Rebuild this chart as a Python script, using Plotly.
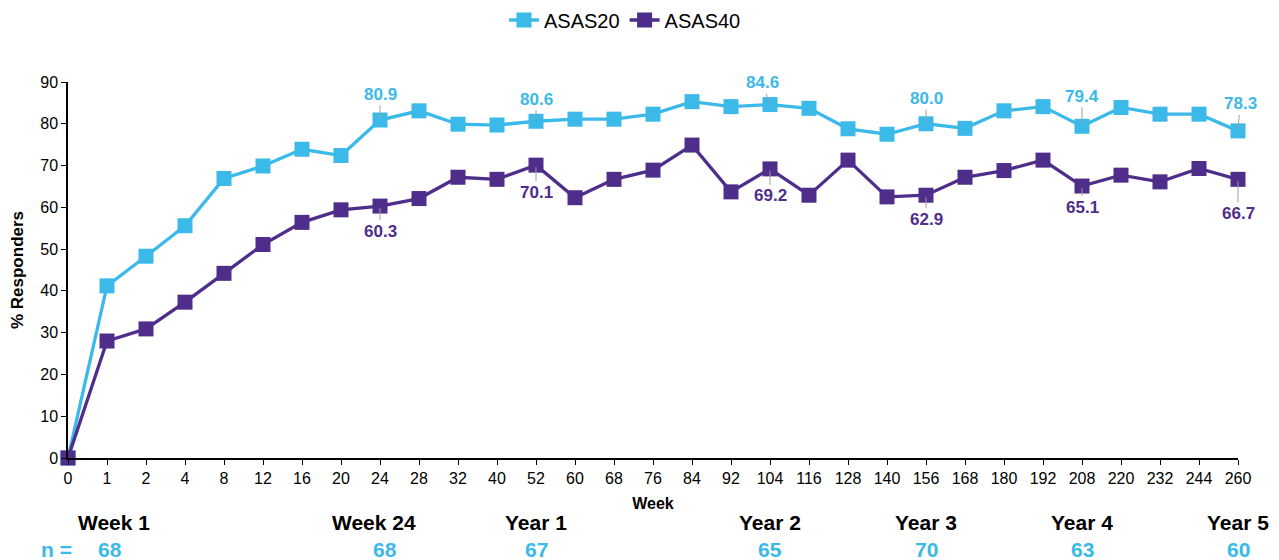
import plotly.graph_objects as go

weeks = ["0", "1", "2", "4", "8", "12", "16", "20", "24", "28", "32", "40", "52", "60", "68",
         "76", "84", "92", "104", "116", "128", "140", "156", "168", "180", "192", "208", "220",
         "232", "244", "260"]
asas20 = [0, 41.2, 48.3, 55.6, 66.9, 69.9, 73.9, 72.4, 80.9, 83.1, 79.9, 79.7, 80.6, 81.1, 81.1,
          82.3, 85.3, 84.1, 84.6, 83.7, 78.8, 77.5, 80.0, 78.9, 83.1, 84.1, 79.4, 83.9,
          82.3, 82.3, 78.3]
asas40 = [0, 28.0, 30.9, 37.3, 44.2, 51.1, 56.4, 59.4, 60.3, 62.1, 67.2, 66.7, 70.1, 62.3, 66.7,
          68.9, 74.9, 63.7, 69.2, 62.9, 71.3, 62.5, 62.9, 67.2, 68.8, 71.3, 65.1, 67.7,
          66.1, 69.3, 66.7]
labelled_weeks = ["24", "52", "104", "156", "208", "260"]
milestone_weeks = ["1", "24", "52", "104", "156", "208", "260"]
milestone_names = ["Week 1", "Week 24", "Year 1", "Year 2", "Year 3", "Year 4", "Year 5"]
milestone_n = [68, 68, 67, 65, 70, 63, 60]

C20 = "#3BB9E8"
C40 = "#4F2D8A"
FONT = "Liberation Sans, Arial, sans-serif"
NARROW = "Liberation Sans Narrow, Arial Narrow, Liberation Sans, Arial, sans-serif"

W, H = 1271, 552  # page shows an 8px body margin

fig = go.Figure()
fig.add_trace(go.Scatter(x=weeks, y=asas20, name="ASAS20", mode="lines+markers",
                         line=dict(color=C20, width=3.3),
                         marker=dict(symbol="square", size=15, color=C20),
                         cliponaxis=False))
fig.add_trace(go.Scatter(x=weeks, y=asas40, name="ASAS40", mode="lines+markers",
                         line=dict(color=C40, width=3.3),
                         marker=dict(symbol="square", size=15, color=C40),
                         cliponaxis=False))

ann = []
off20 = {"24": (0, -26), "52": (0, -22), "104": (-8, -22), "156": (0, -25), "208": (0, -30), "260": (2, -27)}
off40 = {"24": (0, 25), "52": (0, 27), "104": (0, 27), "156": (0, 24), "208": (0, 21), "260": (0, 34)}
for w in labelled_weeks:
    i = weeks.index(w)
    ax, ay = off20[w]
    ann.append(dict(x=i, y=asas20[i], xref="x", yref="y", text=f"<b>{asas20[i]:.1f}</b>",
                    showarrow=True, arrowhead=0, arrowwidth=1, arrowcolor="#a0a0a0",
                    ax=ax, ay=ay, standoff=2,
                    font=dict(family=FONT, size=17, color=C20)))
    ax, ay = off40[w]
    ann.append(dict(x=i, y=asas40[i], xref="x", yref="y", text=f"<b>{asas40[i]:.1f}</b>",
                    showarrow=True, arrowhead=0, arrowwidth=1, arrowcolor="#a0a0a0",
                    ax=ax, ay=ay, standoff=2,
                    font=dict(family=FONT, size=17, color=C40)))

name_shift = {"1": 7, "24": -6}
n_shift = {"1": 3, "24": 5}
for w, name, n in zip(milestone_weeks, milestone_names, milestone_n):
    i = weeks.index(w)
    ann.append(dict(x=i, y=-0.172, xref="x", yref="paper", text=f"<b>{name}</b>",
                    showarrow=False, xanchor="center", yanchor="middle",
                    xshift=name_shift.get(w, 0),
                    font=dict(family=NARROW, size=21, color="black")))
    ann.append(dict(x=i, y=-0.243, xref="x", yref="paper", text=f"<b>{n}</b>",
                    showarrow=False, xanchor="center", yanchor="middle",
                    xshift=n_shift.get(w, 0),
                    font=dict(family=NARROW, size=21, color=C20)))
ann.append(dict(x=(56 - 68) / 1170, y=-0.243, xref="paper", yref="paper", text="<b>n =</b>",
                showarrow=False, xanchor="center", yanchor="middle",
                font=dict(family=NARROW, size=21, color=C20)))

fig.update_layout(
    width=W, height=H,
    margin=dict(l=60, r=41, t=74, b=102, autoexpand=False),
    paper_bgcolor="white", plot_bgcolor="white",
    font=dict(family=FONT, size=15, color="black"),
    showlegend=True,
    legend=dict(orientation="h", x=617 / W, xref="container", xanchor="center",
                y=1 - 12 / H, yref="container", yanchor="middle",
                font=dict(family=FONT, size=20, color="black"),
                itemwidth=30, tracegroupgap=0),
    annotations=ann,
)
fig.update_xaxes(type="category", categoryorder="array", categoryarray=weeks,
                 range=[0, 30], showgrid=False, zeroline=False,
                 showline=True, linecolor="black", linewidth=1.5,
                 ticks="outside", ticklen=5, tickcolor="black",
                 tickfont=dict(family=FONT, size=16, color="black"),
                 title=dict(text="<b>Week</b>", font=dict(family=FONT, size=16), standoff=12))
fig.update_yaxes(range=[0, 90], dtick=10, showgrid=False, zeroline=False,
                 showline=True, linecolor="black", linewidth=1.5,
                 ticks="outside", ticklen=5, tickcolor="black",
                 tickfont=dict(family=FONT, size=16, color="black"),
                 title=dict(text="<b>% Responders</b>", font=dict(family=FONT, size=17), standoff=12))

fig.write_html("out.html")
